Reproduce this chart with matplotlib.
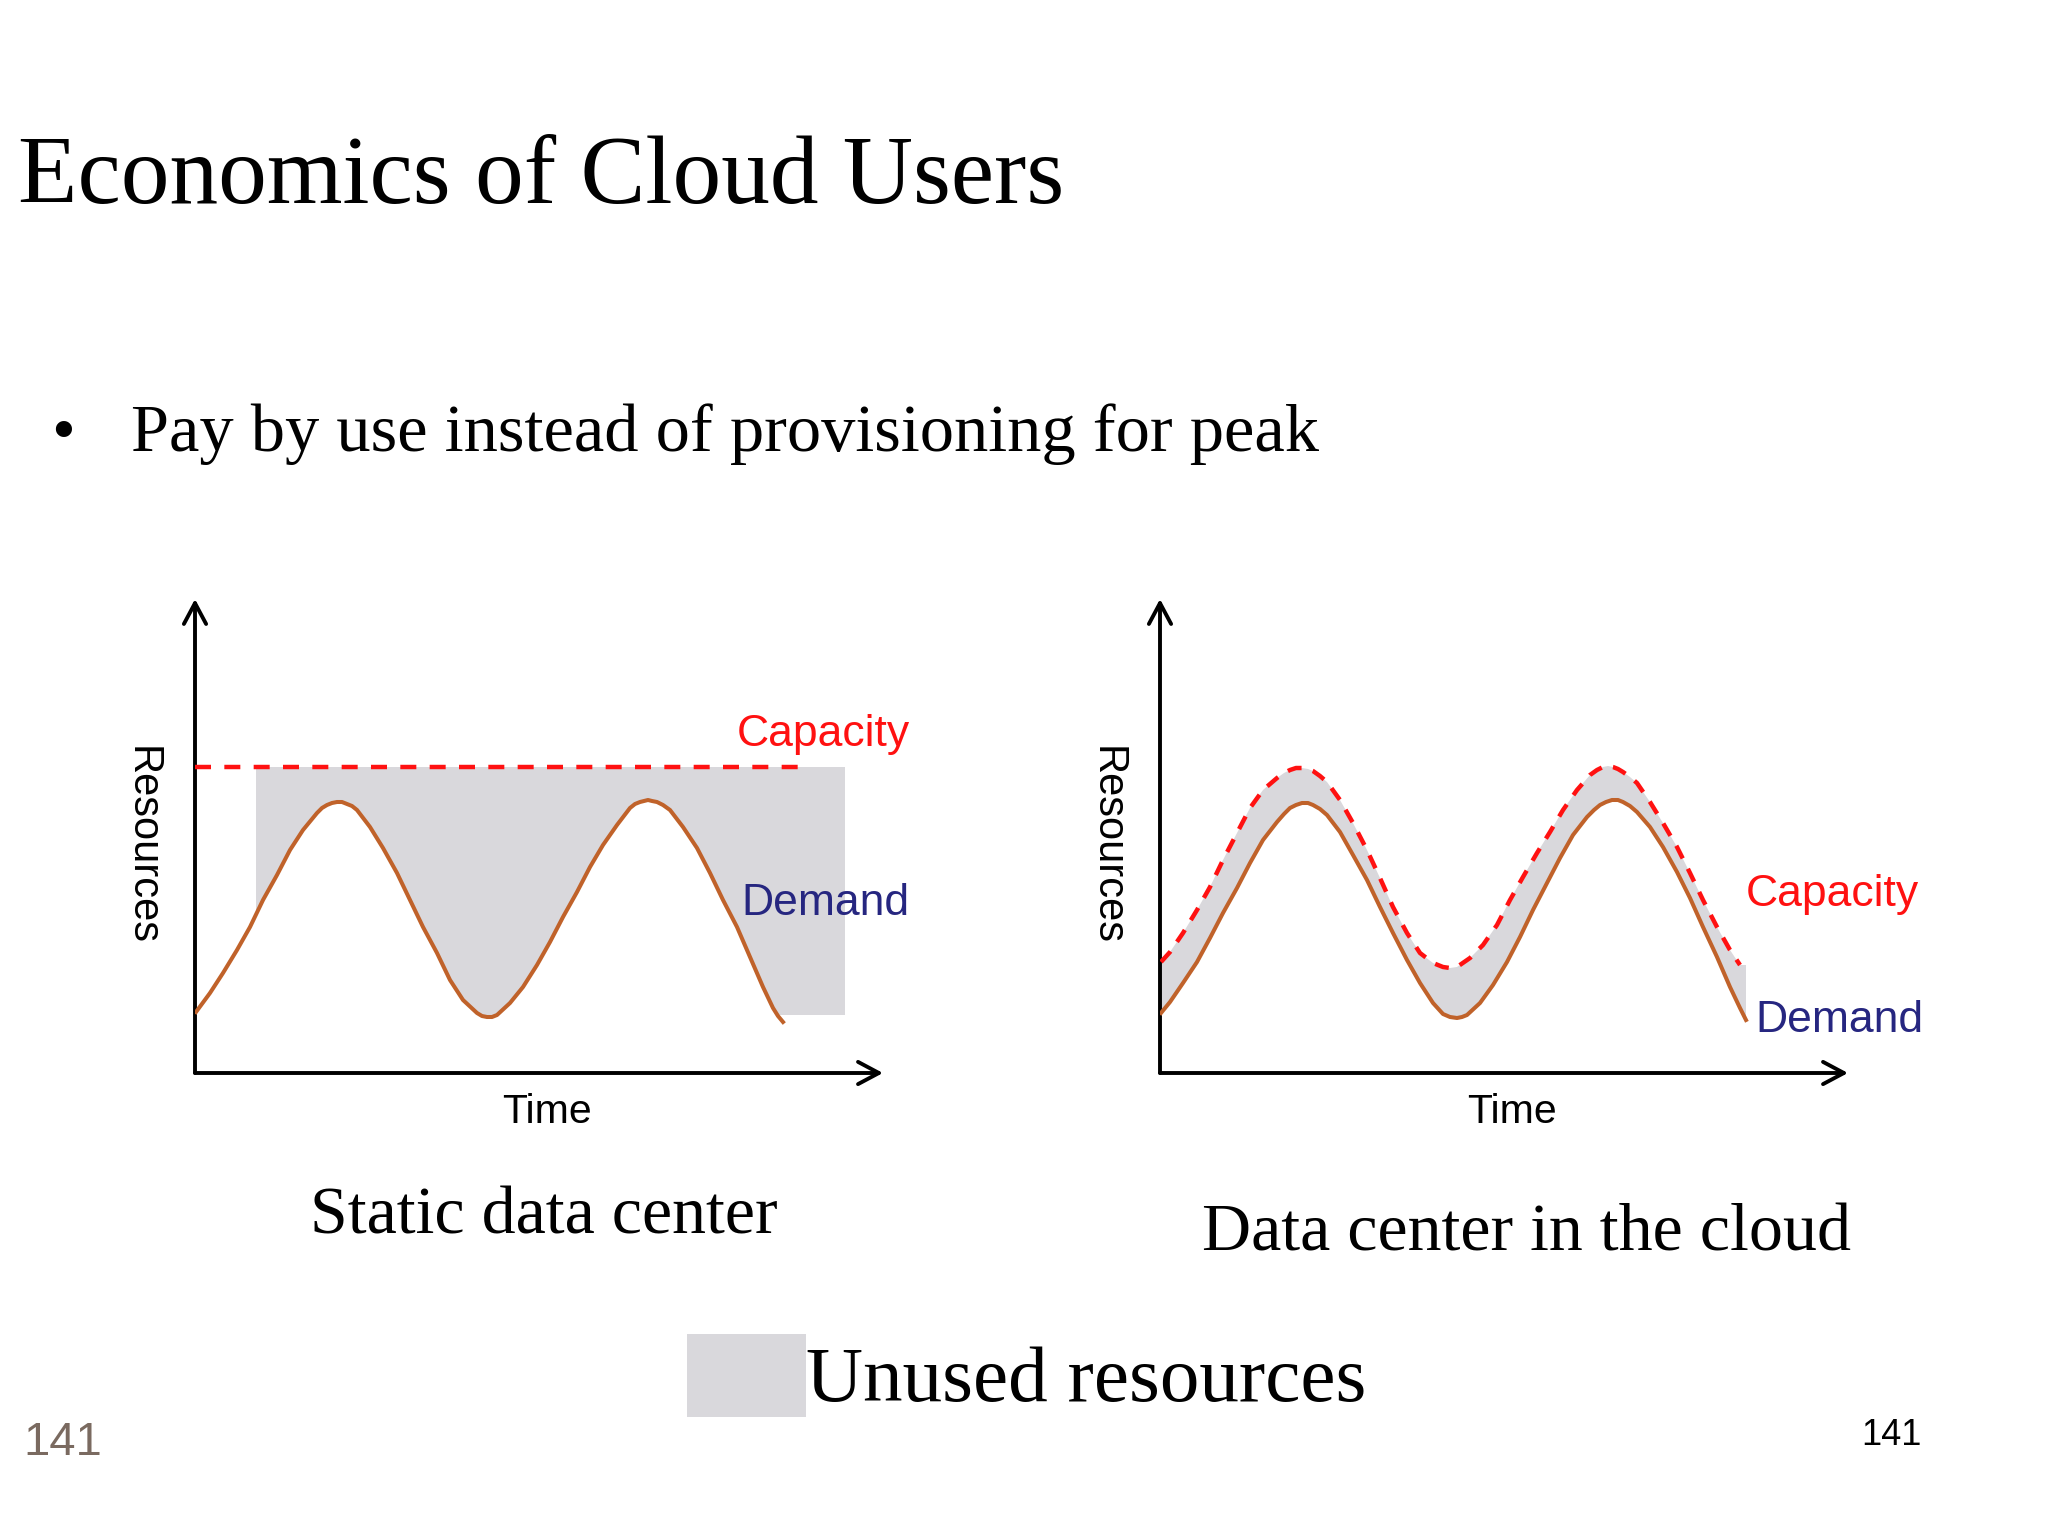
import matplotlib
matplotlib.use("Agg")
import matplotlib.pyplot as plt
from matplotlib.patches import Rectangle

# ---- data (time / resources) ----
static_demand_t = [1, 15, 28, 42, 55, 68, 82, 95, 108, 122, 127, 132, 137, 142, 147, 152, 157, 162,
                   175, 188, 202, 215, 228, 242, 255, 268, 282, 287, 292, 297, 302, 315, 328, 342,
                   355, 368, 382, 395, 408, 422, 435, 440, 445, 449, 453, 457, 462, 468, 475, 488,
                   502, 515, 528, 542, 555, 568, 578, 583, 588]
static_demand_r = [61, 80, 100, 123, 146, 173, 198, 223, 243, 260, 265, 268, 270, 271, 271, 269, 267, 263,
                   246, 225, 200, 173, 146, 120, 93, 73, 60, 57, 56, 56, 58, 70, 86, 108,
                   131, 156, 181, 206, 228, 248, 265, 269, 271, 272, 273, 272, 271, 268, 263, 246,
                   225, 200, 173, 146, 116, 86, 65, 57, 51]
static_capacity = 306
static_capacity_t = [0, 605]
unused_box_t = [61, 650]          # left / right edge of the unused area
unused_box_r = [58, 306]          # floor / capacity
demand_at_box_left = 158          # demand where the unused area starts
demand_at_box_floor = 583         # time where demand drops to the floor

cloud_demand_t = [1, 10, 23, 37, 50, 63, 77, 90, 103, 117, 124, 130, 136, 142, 148, 153, 160, 167,
                  180, 193, 207, 220, 233, 247, 260, 273, 283, 290, 297, 302, 307, 320, 333, 347,
                  360, 373, 387, 400, 413, 427, 434, 440, 446, 452, 458, 463, 470, 477, 490,
                  503, 517, 530, 543, 557, 570, 580, 586]
cloud_demand_r = [60, 71, 90, 111, 135, 160, 185, 210, 233, 251, 259, 265, 268, 270, 270, 268, 264, 258,
                  241, 218, 193, 166, 140, 113, 90, 70, 59, 56, 55, 56, 58, 70, 88, 111,
                  136, 163, 190, 215, 238, 256, 263, 268, 271, 273, 273, 271, 267, 261, 246,
                  226, 201, 175, 146, 116, 86, 65, 53]
cloud_capacity_t = [1, 10, 23, 37, 50, 63, 77, 90, 103, 117, 124, 130, 136, 142, 148, 153, 160, 167,
                    180, 193, 207, 220, 233, 247, 260, 273, 283, 290, 297, 310, 323, 337,
                    350, 363, 377, 390, 403, 417, 424, 430, 437, 443, 448, 453, 458, 463, 470, 477,
                    490, 503, 517, 530, 543, 557, 570, 580]
cloud_capacity_r = [111, 121, 140, 163, 186, 213, 240, 265, 283, 295, 300, 303, 305, 305, 304, 302, 297, 291,
                    273, 250, 223, 195, 166, 140, 120, 110, 106, 105, 106, 115, 128, 148,
                    173, 196, 220, 241, 263, 283, 291, 298, 303, 306, 307, 306, 304, 301, 296, 290,
                    271, 250, 226, 200, 173, 146, 123, 108]

GRAY = "#d9d8dc"
RED = "#ff1111"
BROWN = "#c0622a"
NAVY = "#262680"
SANS = "Liberation Sans"
SERIF = "Liberation Serif"

fig = plt.figure(figsize=(20.48, 15.36), dpi=100)
fig.patch.set_facecolor("white")

W, H = 2048, 1536
axL = fig.add_axes([195 / W, 1 - 1073 / H, 705 / W, 493 / H])
axR = fig.add_axes([1160 / W, 1 - 1073 / H, 705 / W, 493 / H])


def base_axes(ax):
    ax.set_xlim(0, 705)
    ax.set_ylim(0, 493)
    ax.axis("off")
    arrow = dict(arrowstyle="->,head_length=1.5,head_width=0.8", lw=2.8, color="black",
                 shrinkA=0, shrinkB=0, mutation_scale=10)
    ax.annotate("", xy=(0, 474), xytext=(0, 0), arrowprops=arrow, annotation_clip=False)
    ax.annotate("", xy=(688, 0), xytext=(0, 0), arrowprops=arrow, annotation_clip=False)
    ax.text(352, -39, "Time", ha="center", va="center", fontsize=29.5, family=SANS)
    ax.text(-53, 228, "Resources", ha="center", va="center", rotation=-90,
            fontsize=30, family=SANS, clip_on=False)


# left: static data center
base_axes(axL)
t0, t1 = unused_box_t
floor, cap = unused_box_r
under = [(t, r) for t, r in zip(static_demand_t, static_demand_r)
         if t0 < t < demand_at_box_floor]
poly_t = [t0, t1, t1, demand_at_box_floor] + [t for t, _ in under[::-1]] + [t0]
poly_r = [cap, cap, floor, floor] + [r for _, r in under[::-1]] + [demand_at_box_left]
axL.fill(poly_t, poly_r, color=GRAY, lw=0, zorder=1)
axL.plot(static_capacity_t, [static_capacity] * 2, color=RED, lw=3.2, dashes=(3.6, 3.0), zorder=3)
axL.plot(static_demand_t, static_demand_r, color=BROWN, lw=2.9, solid_joinstyle="round", zorder=3)
axL.text(628, 339, "Capacity", color=RED, ha="center", va="center", fontsize=32, family=SANS)
axL.text(630, 170, "Demand", color=NAVY, ha="center", va="center", fontsize=32, family=SANS)

# right: data center in the cloud
base_axes(axR)
poly_t = cloud_capacity_t + [cloud_demand_t[-1]] + cloud_demand_t[::-1]
poly_r = cloud_capacity_r + [cloud_capacity_r[-1]] + cloud_demand_r[::-1]
axR.fill(poly_t, poly_r, color=GRAY, lw=0, zorder=1)
axR.plot(cloud_capacity_t, cloud_capacity_r, color=RED, lw=3.2, dashes=(3.2, 2.6), zorder=3)
axR.plot(cloud_demand_t, cloud_demand_r, color=BROWN, lw=2.9, solid_joinstyle="round", zorder=3)
axR.text(672, 179, "Capacity", color=RED, ha="center", va="center", fontsize=32, family=SANS)
axR.text(679, 52, "Demand", color=NAVY, ha="center", va="center", fontsize=32, family=SANS)

# slide texts
fig.text(0.0089, 0.868, "Economics of Cloud Users", fontsize=70, family=SERIF, va="baseline")
fig.text(0.025, 0.7066, "\u2022", fontsize=49, family=SERIF, va="baseline")
fig.text(0.0638, 0.7066, "Pay by use instead of provisioning for peak", fontsize=49.3,
         family=SERIF, va="baseline")
fig.text(0.2653, 0.2075, "Static data center", fontsize=49, family=SERIF, ha="center", va="center")
fig.text(0.7455, 0.1964, "Data center in the cloud", fontsize=49, family=SERIF, ha="center", va="center")
fig.patches.append(Rectangle((0.3355, 0.0774), 0.058, 0.0544, transform=fig.transFigure,
                             facecolor=GRAY, edgecolor="none"))
fig.text(0.3935, 0.1003, "Unused resources", fontsize=57, family=SERIF, va="center")
fig.text(0.0306, 0.0604, "141", fontsize=34, family=SANS, color="#7a6a60", ha="center", va="center")
fig.text(0.9235, 0.0655, "141", fontsize=26, family=SANS, ha="center", va="center")

fig.savefig("out.png", dpi=100)
